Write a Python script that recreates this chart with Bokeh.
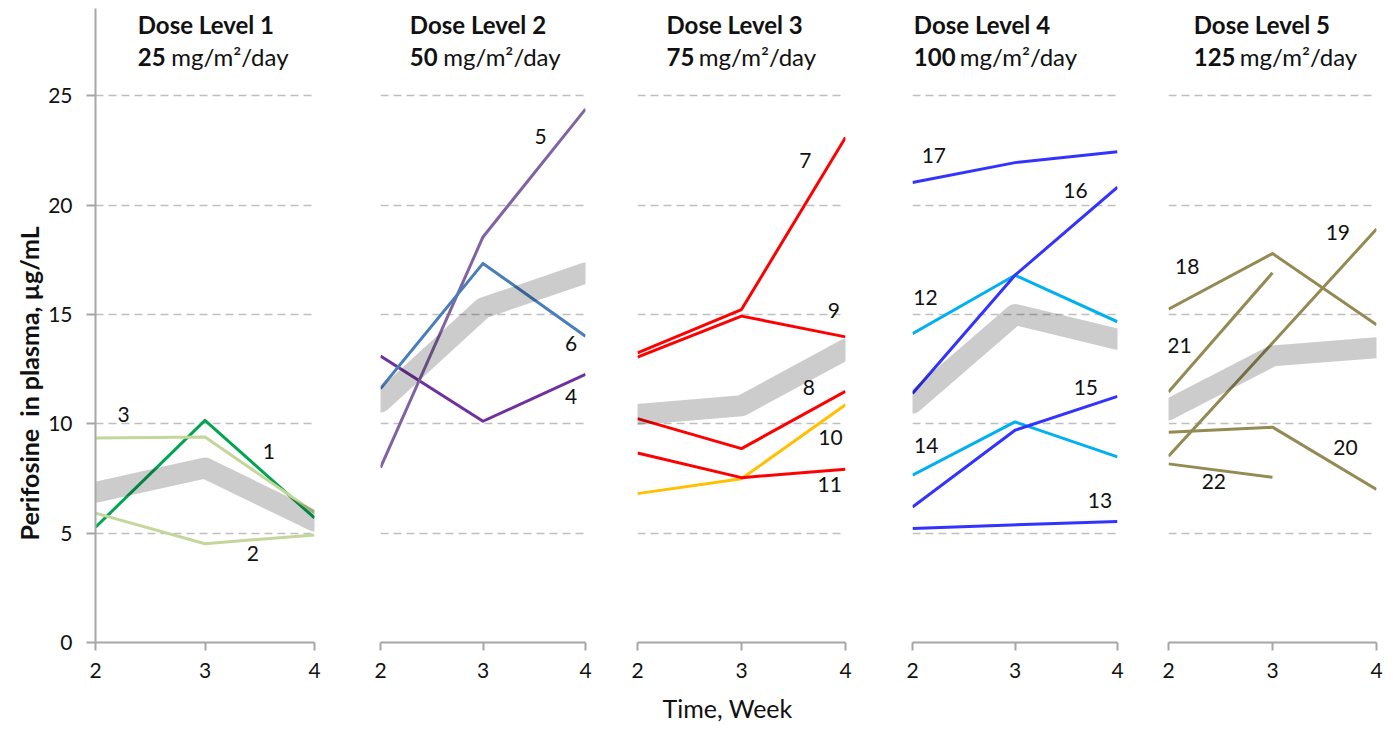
import math
from bokeh.plotting import figure
from bokeh.models import Range1d, FixedTicker, Grid, Label, Title
from bokeh.layouts import row
from bokeh.embed import file_html
from bokeh.resources import INLINE
from bokeh.core.properties import value

FONT = "Lato"
NaN = float("nan")

# ---------------- data ----------------
weeks = [2, 3, 4]
week_ticks = [2, 3, 4]
y_ticks = [0, 5, 10, 15, 20, 25]
grid_ticks = [5, 10, 15, 20, 25]

panel_titles = ["Dose Level 1", "Dose Level 2", "Dose Level 3", "Dose Level 4", "Dose Level 5"]
panel_doses = ["25", "50", "75", "100", "125"]
dose_unit = "mg/m\u00b2/day"

# Dose level 1
pt1 = [5.27, 10.16, 5.70]
pt2 = [5.92, 4.52, 4.92]
pt3 = [9.35, 9.40, 5.95]
mean1 = [6.87, 7.98, 5.55]
# Dose level 2
pt4 = [13.10, 10.12, 12.27]
pt5 = [8.00, 18.55, 24.40]
pt6 = [11.62, 17.34, 14.01]
mean2 = [11.00, 15.30, 16.90]
# Dose level 3
pt7 = [13.25, 15.23, 23.10]
pt8 = [10.24, 8.87, 11.49]
pt9 = [13.05, 14.93, 13.98]
pt10 = [6.81, 7.49, 10.88]
pt11 = [8.67, 7.54, 7.92]
mean3 = [10.43, 10.83, 13.40]
# Dose level 4
pt12 = [14.13, 16.80, 14.67]
pt13 = [5.22, NaN, 5.54]
pt14 = [7.65, 10.09, 8.49]
pt15 = [6.20, 9.71, 11.26]
pt16 = [11.39, 16.80, 20.83]
pt17 = [21.04, 21.95, 22.45]
mean4 = [10.95, 15.00, 13.87]
# Dose level 5
pt18 = [15.25, 17.79, 14.53]
pt19 = [8.52, 13.70, 18.91]
pt20 = [9.62, 9.85, 7.00]
pt21 = [11.46, 16.91, NaN]
pt22 = [8.17, 7.56, NaN]
mean5 = [10.65, 13.11, 13.48]

y_title = "Perifosine\u00a0 in plasma, \u00b5g/mL"
x_title = "Time, Week"

# ---------------- styles / layout ----------------
DARK_GREEN = "#00A550"
LIGHT_GREEN = "#C3D69B"
RED = "#FF0000"
AMBER = "#FFC000"
CYAN = "#00B0F0"
BLUE = "#3333FF"
OLIVE = "#948A54"

panels = [
    dict(series=[("1", pt1, DARK_GREEN), ("2", pt2, LIGHT_GREEN), ("3", pt3, LIGHT_GREEN)], mean=mean1,
         labels=[("3", 2.256, 10.41), ("1", 3.583, 8.75), ("2", 3.437, 4.09)],
         border=(95, 26), width=340, title_x=2.386, unit_x=2.691),
    dict(series=[("4", pt4, "#7030A0"), ("5", pt5, "#8064A2"), ("6", pt6, "#4A7EBB")], mean=mean2,
         labels=[("5", 3.561, 23.15), ("6", 3.859, 13.66), ("4", 3.859, 11.26)],
         border=(40, 25), width=270, title_x=2.286, unit_x=2.612),
    dict(series=[("7", pt7, RED), ("8", pt8, RED), ("9", pt9, RED), ("10", pt10, AMBER), ("11", pt11, RED)],
         mean=mean3,
         labels=[("7", 3.615, 22.04), ("9", 3.888, 15.19), ("8", 3.647, 11.66), ("10", 3.856, 9.39),
                 ("11", 3.848, 7.23)],
         border=(27, 35), width=270, title_x=2.279, unit_x=2.589),
    dict(series=[("12", pt12, CYAN), ("13", pt13, BLUE), ("14", pt14, CYAN), ("15", pt15, BLUE),
                 ("16", pt16, BLUE), ("17", pt17, BLUE)], mean=mean4,
         labels=[("17", 2.208, 22.29), ("16", 3.59, 20.66), ("12", 2.127, 15.8), ("15", 3.691, 11.66),
                 ("14", 2.134, 9.01), ("13", 3.829, 6.5)],
         border=(32, 23), width=260, title_x=2.013, unit_x=2.461),
    dict(series=[("18", pt18, OLIVE), ("19", pt19, OLIVE), ("20", pt20, OLIVE), ("21", pt21, OLIVE),
                 ("22", pt22, OLIVE)], mean=mean5,
         labels=[("18", 2.18, 17.22), ("19", 3.628, 18.75), ("21", 2.106, 13.59), ("20", 3.702, 8.92),
                 ("22", 2.436, 7.35)],
         border=(28, 14), width=250, title_x=2.243, unit_x=2.686),
]

HEIGHT = 733
AXIS_COLOR = "#A6A6A6"
TEXT_COLOR = "#111111"
LINE1_Y = 28.27
LINE2_Y = 26.80

figs = []
for i, pan in enumerate(panels):
    p = figure(width=pan["width"], height=HEIGHT, output_backend="svg", toolbar_location=None,
               x_range=Range1d(2, 4), y_range=Range1d(0, 29),
               y_axis_location="left" if i == 0 else None,
               min_border_left=pan["border"][0], min_border_right=pan["border"][1],
               min_border_top=8, min_border_bottom=HEIGHT - 642)
    p.outline_line_color = None
    p.background_fill_color = "white"
    p.border_fill_color = "white"
    p.grid.visible = False

    # x axis
    xa = p.xaxis[0]
    xa.ticker = FixedTicker(ticks=week_ticks)
    xa.minor_tick_line_color = None
    xa.major_tick_in = 0
    xa.major_tick_out = 8
    xa.axis_line_color = AXIS_COLOR
    xa.axis_line_width = 2
    xa.major_tick_line_color = AXIS_COLOR
    xa.major_tick_line_width = 2
    xa.major_label_text_font = FONT
    xa.major_label_text_font_size = "21px"
    xa.major_label_text_color = TEXT_COLOR
    xa.major_label_standoff = 12

    if i == 0:
        ya = p.yaxis[0]
        ya.ticker = FixedTicker(ticks=y_ticks)
        ya.minor_tick_line_color = None
        ya.major_tick_in = 0
        ya.major_tick_out = 9
        ya.axis_line_color = AXIS_COLOR
        ya.axis_line_width = 2
        ya.major_tick_line_color = AXIS_COLOR
        ya.major_tick_line_width = 2
        ya.major_label_text_font = FONT
        ya.major_label_text_font_size = "21px"
        ya.major_label_text_color = TEXT_COLOR
        ya.major_label_standoff = 14
        p.add_layout(Title(text=y_title, align="left", offset=102, standoff=4, text_font=FONT,
                           text_font_size="25px", text_font_style="bold", text_color=TEXT_COLOR),
                     "left")
    if i == 2:
        p.add_layout(Title(text=x_title, align="left", offset=25, standoff=20, vertical_align="bottom",
                           text_font=FONT, text_font_size="25px", text_font_style="normal",
                           text_color=TEXT_COLOR),
                     "below")

    grid = Grid(dimension=1, ticker=FixedTicker(ticks=grid_ticks), grid_line_color="#BFBFBF",
                grid_line_width=1.5, grid_line_dash="8 5")
    p.add_layout(grid)

    # patient lines
    for name, vals, color in pan["series"]:
        xs = [w for w, v in zip(weeks, vals) if not math.isnan(v)]
        ys = [v for v in vals if not math.isnan(v)]
        p.line(xs, ys, line_color=color, line_width=3, line_join="round")

    # mean band (semi-transparent thick line on top)
    p.line(weeks, pan["mean"], line_color="#000000", line_alpha=0.2, line_width=21,
           line_join="round", line_cap="round")

    # patient number labels
    p.text(x=[l[1] for l in pan["labels"]], y=[l[2] for l in pan["labels"]],
           text=[l[0] for l in pan["labels"]], text_font=value(FONT), text_font_size="21px",
           text_color=TEXT_COLOR, text_align="center", text_baseline="middle")

    # panel titles
    p.add_layout(Label(x=pan["title_x"], y=LINE1_Y, text=panel_titles[i], text_font=FONT,
                       text_font_size="24px", text_font_style="bold", text_color=TEXT_COLOR,
                       text_align="left", text_baseline="middle"))
    p.add_layout(Label(x=pan["title_x"], y=LINE2_Y, text=panel_doses[i], text_font=FONT,
                       text_font_size="24px", text_font_style="bold", text_color=TEXT_COLOR,
                       text_align="left", text_baseline="middle"))
    p.add_layout(Label(x=pan["unit_x"], y=LINE2_Y, text=dose_unit, text_font=FONT,
                       text_font_size="24px", text_color=TEXT_COLOR,
                       text_align="left", text_baseline="middle"))
    figs.append(p)

layout = row(*figs, spacing=0)
open("out.html", "w").write(file_html(layout, INLINE))
